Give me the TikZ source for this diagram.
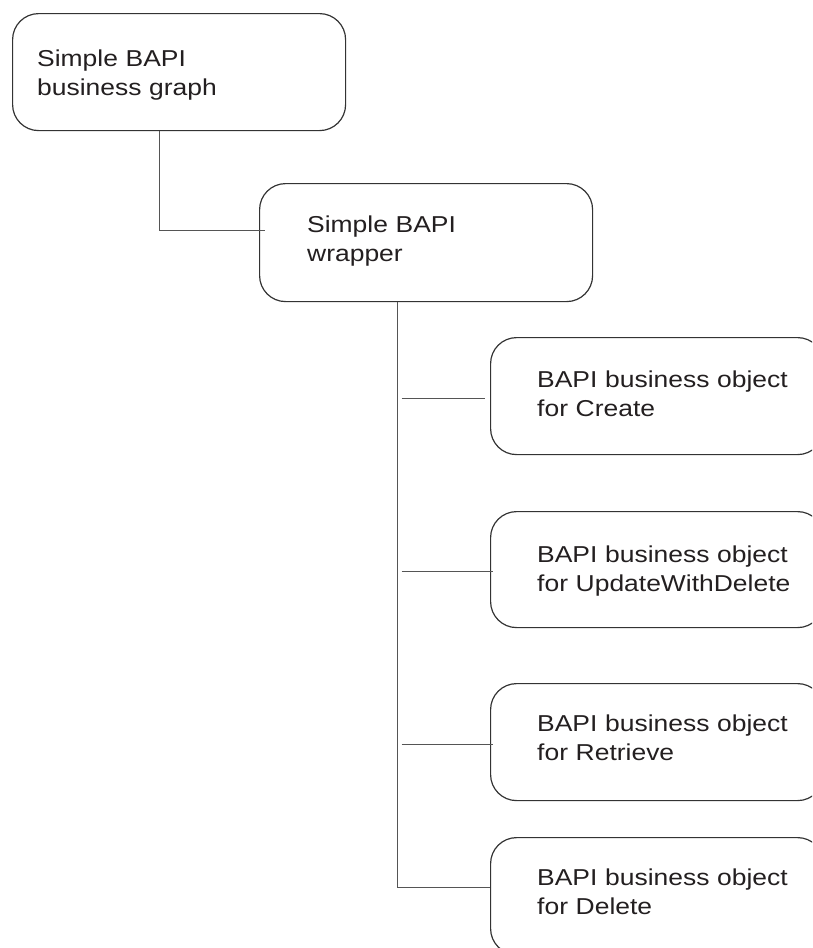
\documentclass[tikz,border=0pt]{standalone}
\usepackage{fontspec}
\setmainfont{Liberation Sans}[FakeStretch=1.15]
\definecolor{boxline}{HTML}{333333}
\definecolor{connline}{HTML}{555555}
\definecolor{textcol}{HTML}{231F20}
\begin{document}
\begin{tikzpicture}[x=1pt,y=1pt,
  box/.style={draw=boxline, line width=1.2pt, rounded corners=26pt,
    minimum width=333pt, minimum height=117pt, anchor=north west, inner sep=0pt},
  boxtext/.style={anchor=base west, inner sep=0pt, text width=300pt, align=left,
    text=textcol, font=\fontsize{23}{29.5}\selectfont},
  conn/.style={draw=connline, line width=1.2pt}]
\clip (0,0) rectangle (812,-948);

% boxes
\node[box] (b1) at (12,-13) {};
\node[box, minimum height=118pt] (b2) at (259,-183) {};
\node[box] (b3) at (490,-337) {};
\node[box, minimum height=116pt] (b4) at (490,-511) {};
\node[box] (b5) at (490,-683) {};
\node[box] (b6) at (490,-837) {};

% box texts
\node[boxtext] (t1) at ([xshift=25pt,yshift=-53pt]b1.north west) {Simple BAPI\\business graph};
\node[boxtext] (t2) at ([xshift=48pt,yshift=-49pt]b2.north west) {Simple BAPI\\wrapper};
\node[boxtext] (t3) at ([xshift=47pt,yshift=-50pt]b3.north west) {BAPI business object\\for Create};
\node[boxtext] (t4) at ([xshift=47pt,yshift=-51pt]b4.north west) {BAPI business object\\for UpdateWithDelete};
\node[boxtext] (t5) at ([xshift=47pt,yshift=-48pt]b5.north west) {BAPI business object\\for Retrieve};
\node[boxtext] (t6) at ([xshift=47pt,yshift=-48pt]b6.north west) {BAPI business object\\for Delete};

% graph -> wrapper
\draw[conn] ([xshift=-19.5pt]b1.south) |- ([xshift=6pt,yshift=12pt]b2.west);

% wrapper trunk down to the last object
\coordinate (trunk) at ([xshift=-28.5pt]b2.south);
\draw[conn] (trunk) |- ([yshift=9pt]b6.west);

% side branches
\path (trunk |- b3.west) coordinate (s3)
      (trunk |- b4.west) coordinate (s4)
      (trunk |- b5.west) coordinate (s5);
\draw[conn] ([xshift=4pt,yshift=-2.5pt]s3) -- ([xshift=-5pt,yshift=-2.5pt]b3.west);
\draw[conn] ([xshift=4pt,yshift=-2pt]s4) -- ([xshift=3pt,yshift=-2pt]b4.west);
\draw[conn] ([xshift=4pt,yshift=-2.5pt]s5) -- ([xshift=3pt,yshift=-2.5pt]b5.west);
\end{tikzpicture}
\end{document}
